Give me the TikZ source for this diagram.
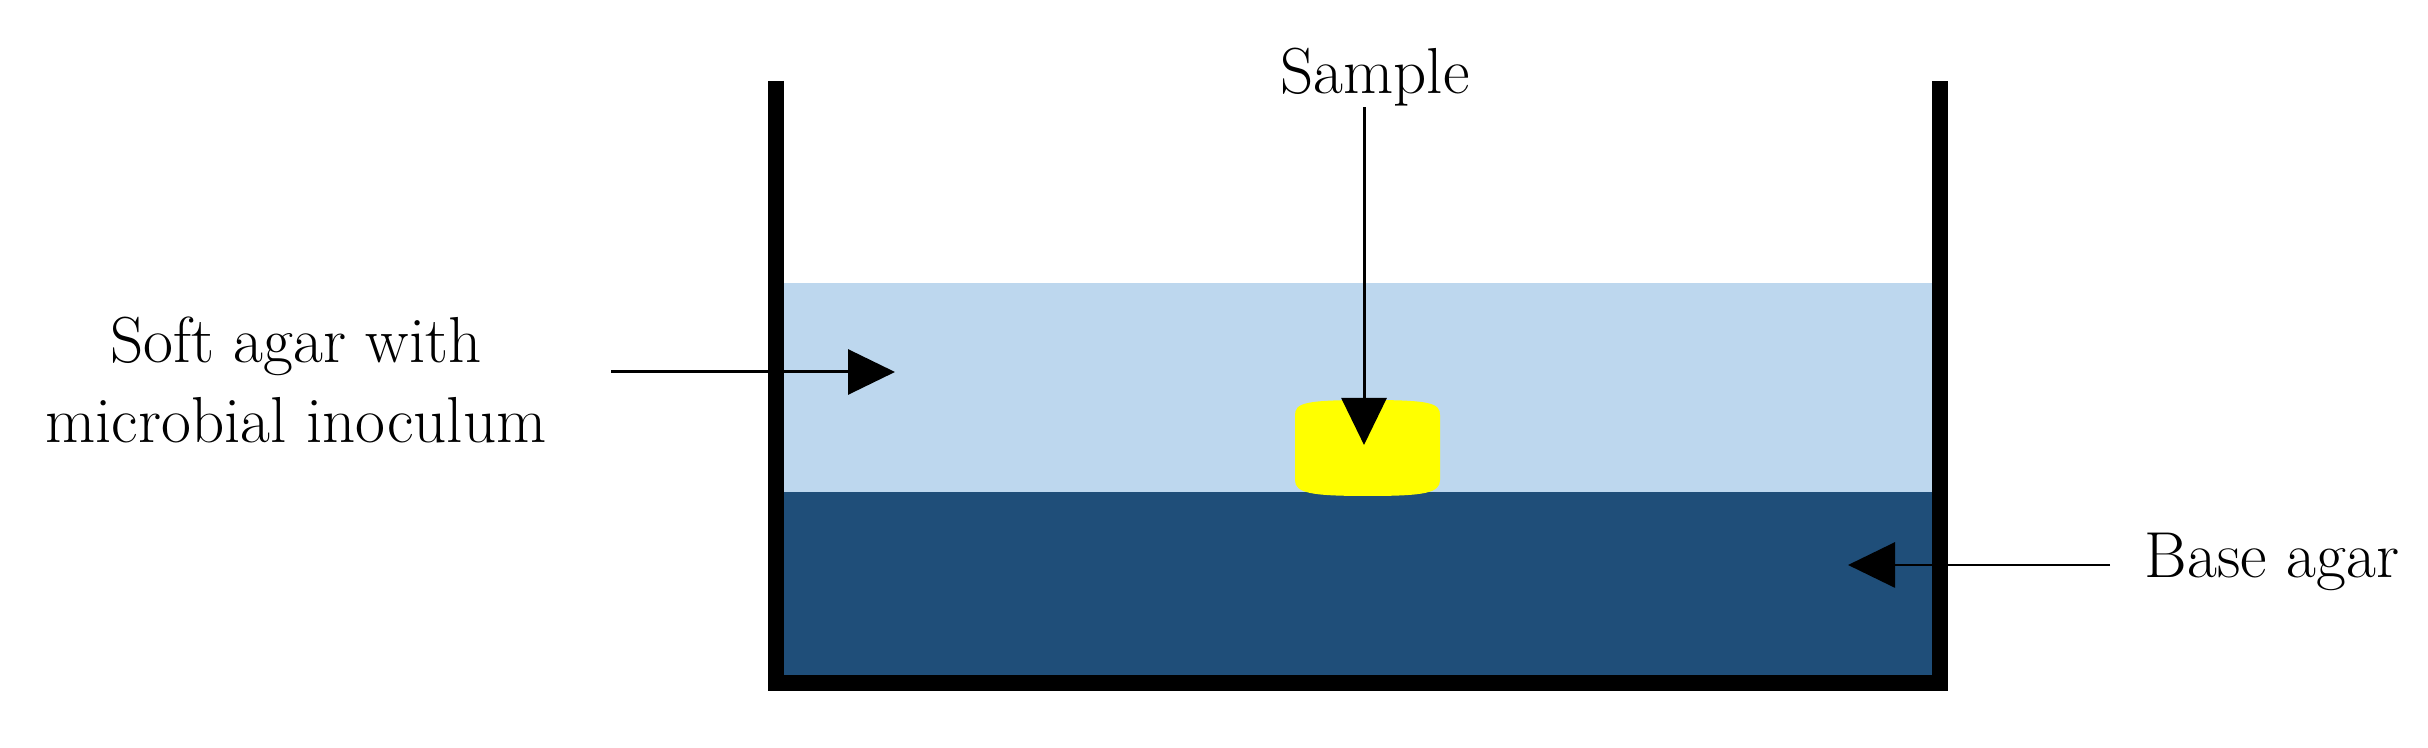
\documentclass[tikz,border=0pt]{standalone}
\usepackage{fontspec}
\usetikzlibrary{arrows.meta}
\definecolor{softagar}{HTML}{BDD7EE}
\definecolor{baseagar}{HTML}{1F4E79}
\definecolor{sampleyellow}{HTML}{FFFF00}
\tikzset{
  wall/.style={line width=1.65mm, line join=miter},
  ptr/.style={-{Triangle[length=4.7mm,width=4.5mm]}, line width=0.85pt},
  lbl/.style={font=\fontsize{18.5}{22.8}\selectfont, inner sep=0pt}
}
\begin{document}
\begin{tikzpicture}
  \useasboundingbox (0,0) rectangle (24.28,7.48);
  % agar layers
  \fill[softagar] (7.84,2.56) rectangle (19.32,4.65);
  \fill[baseagar] (7.84,0.73) rectangle (19.32,2.56);
  \fill[sampleyellow] (12.95,3.33) -- (12.95,2.68)
    .. controls (12.95,2.55) and (13.10,2.52) .. (13.675,2.52)
    .. controls (14.25,2.52) and (14.40,2.55) .. (14.40,2.68)
    -- (14.40,3.33) .. controls (14.40,3.45) and (14.30,3.48) .. (13.675,3.48)
    .. controls (13.05,3.48) and (12.95,3.45) .. (12.95,3.33) -- cycle;
  \draw[wall] (7.76,6.67) -- (7.76,0.65) -- (19.40,0.65) -- (19.40,6.67);
  % labels
  \node[lbl, anchor=base] (samplelbl) at (13.75,6.54) {Sample};
  \node[lbl, align=center, inner xsep=6.4mm] (softlbl) at (2.96,3.68)
    {Soft agar with\\microbial inoculum};
  \node[lbl, anchor=base west, inner xsep=3.4mm] (baselbl) at (21.10,1.70) {Base agar};
  \coordinate (samplein) at (13.64,3.03);
  \coordinate (softin) at (8.95,3.76);
  \coordinate (basein) at (18.48,1.83);
  \draw[ptr] (samplein |- samplelbl.south) -- (samplein);
  \draw[ptr] (softlbl.east |- softin) -- (softin);
  \draw[ptr] (baselbl.west |- basein) -- (basein);
\end{tikzpicture}
\end{document}
